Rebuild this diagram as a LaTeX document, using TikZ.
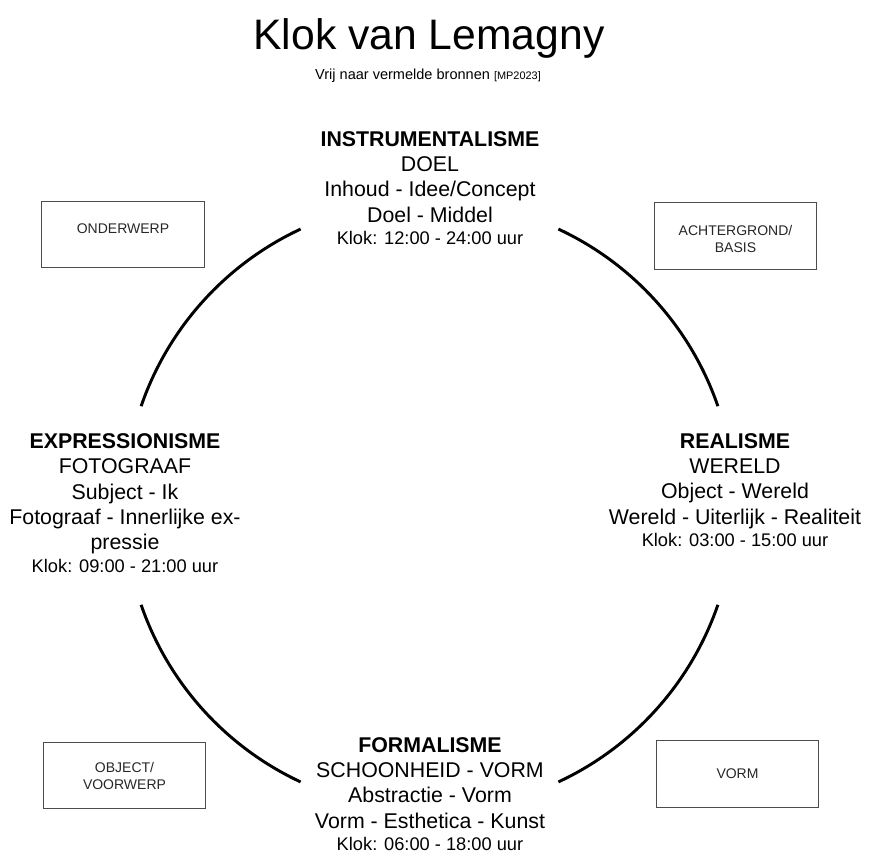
\documentclass[tikz,border=0pt]{standalone}
\usepackage{fontspec}
\setmainfont{Liberation Sans}
\newcommand{\kloktijd}[1]{\fontsize{13.7}{17.25}\selectfont Klok: #1 uur}
\begin{document}
\begin{tikzpicture}[x=0.75pt,y=-0.75pt,
    arcline/.style={line width=2.2pt},
    stroming/.style={align=center,inner sep=0pt,font=\fontsize{16}{19}\selectfont},
    hoekbox/.style={draw=black!70,line width=0.75pt,minimum width=122pt,
      minimum height=50pt,align=center,inner sep=0pt,text=black!85,
      font=\fontsize{10.5}{12.75}\selectfont}]
  \useasboundingbox (0,0) rectangle (875,866);
  % titel
  \node[font=\fontsize{32}{36}\selectfont] (titel) at (429,38) {Klok van Lemagny};
  \node[font=\fontsize{10.9}{13}\selectfont] (bron) at (428,76)
    {Vrij naar vermelde bronnen {\fontsize{8.2}{10}\selectfont[MP2023]}};
  % cirkel in vier bogen
  \coordinate (mid) at (429.5,505.5);
  \foreach \s in {19,115,199,295}
    \draw[arcline] ([shift={(\s:228.75pt)}]mid) arc[start angle=\s,end angle=\s+46,radius=228.75pt];
  % stromingen
  \node[stroming] (instr) at (430,188) {\textbf{INSTRUMENTALISME}\\DOEL\\Inhoud - Idee/Concept\\Doel - Middel\\[-2.25pt]\kloktijd{12:00 - 24:00}};
  \node[stroming] (expr) at (125,503) {\textbf{EXPRESSIONISME}\\FOTOGRAAF\\Subject - Ik\\Fotograaf - Innerlijke ex-\\pressie\\[-2.25pt]\kloktijd{09:00 - 21:00}};
  \node[stroming] (real) at (735,490) {\textbf{REALISME}\\WERELD\\Object - Wereld\\Wereld - Uiterlijk - Realiteit\\[-2.25pt]\kloktijd{03:00 - 15:00}};
  \node[stroming] (form) at (430,794) {\textbf{FORMALISME}\\SCHOONHEID - VORM\\Abstractie - Vorm\\Vorm - Esthetica - Kunst\\[-2.25pt]\kloktijd{06:00 - 18:00}};
  % hoeken
  \node[hoekbox] (onderwerp) at (123,234.5) {\raisebox{4.5pt}[\height][\depth]{ONDERWERP}};
  \node[hoekbox] (achtergrond) at (735.5,236) {\raisebox{-2pt}[\height][\depth]{ACHTERGROND/}\\\raisebox{-2pt}[\height][\depth]{BASIS}};
  \node[hoekbox] (object) at (124.5,775.5) {OBJECT/\\VOORWERP};
  \node[hoekbox] (vorm) at (737.5,774) {VORM};
\end{tikzpicture}
\end{document}
